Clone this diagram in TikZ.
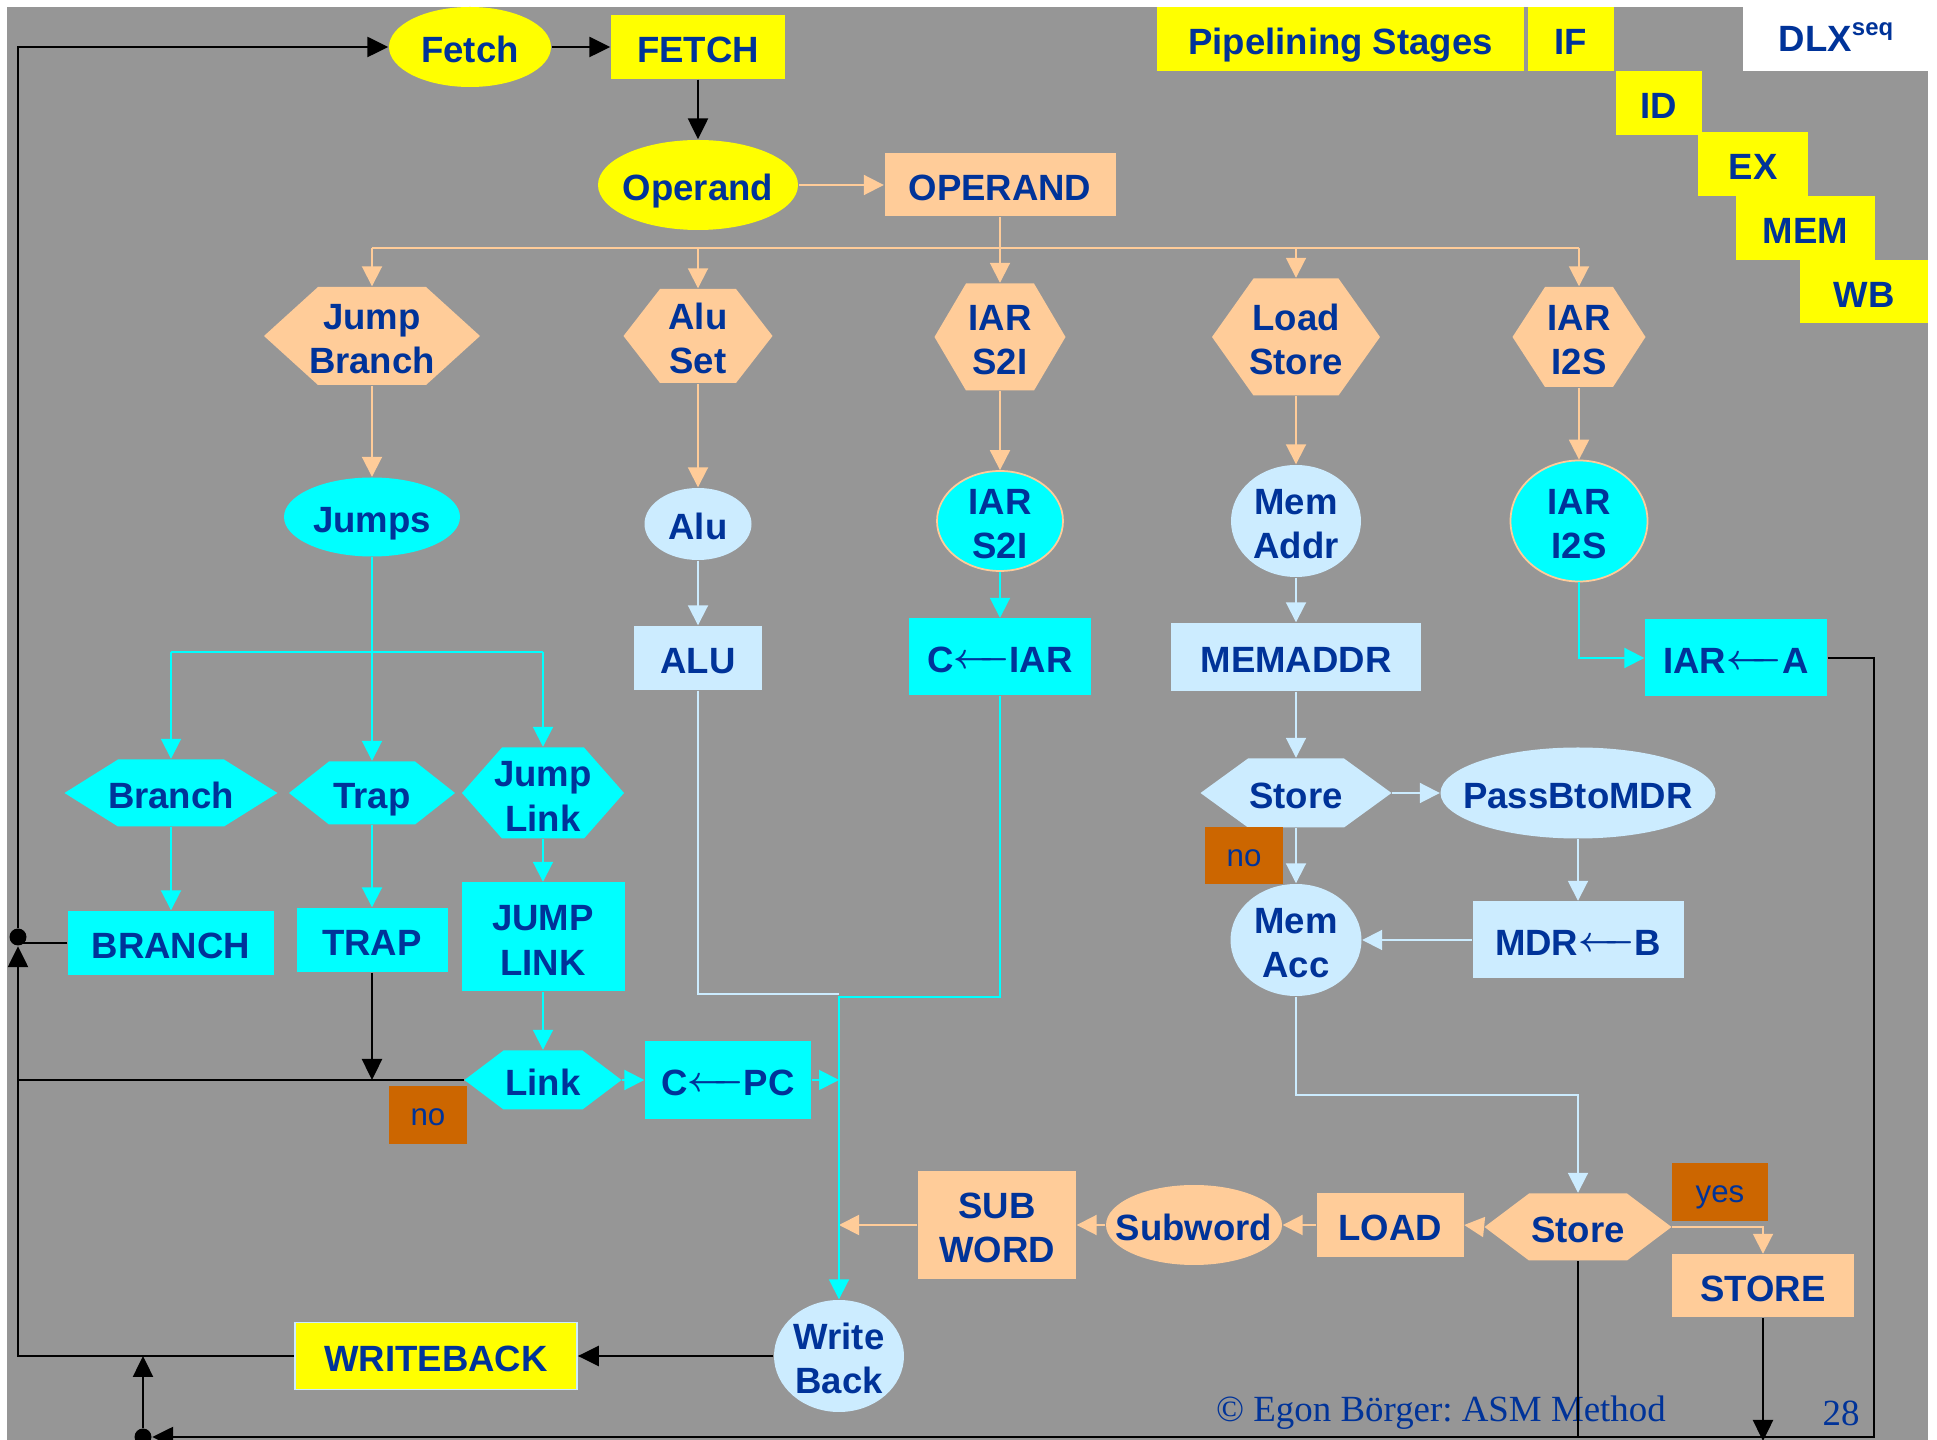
\documentclass[tikz,border=0pt]{standalone}
\usepackage{fontspec}
\setmainfont{Liberation Sans}
\newfontfamily\footfont{Liberation Serif}
\usetikzlibrary{arrows.meta,shapes.geometric,calc}
\frenchspacing

\definecolor{bggray}{RGB}{150,150,150}
\definecolor{ylw}{RGB}{255,255,0}
\definecolor{peach}{RGB}{255,204,153}
\definecolor{aqua}{RGB}{0,255,255}
\definecolor{pale}{RGB}{204,236,255}
\definecolor{rust}{RGB}{204,102,0}
\definecolor{ink}{RGB}{0,51,153}

% long assignment arrow used in register transfers
\newcommand{\larr}{\raisebox{0.1em}{\boldmath$\leftarrow\mkern-7mu\relbar$}}

\tikzset{
  lbl/.style={font=\bfseries\fontsize{10.4}{12.6}\selectfont, text=ink, align=center,
    inner sep=0pt, execute at begin node={\rule{0pt}{0.85em}}},
  sl/.style={text depth=0pt},
  ml/.style={execute at begin node={\rule{0pt}{2.08em}}},
  sz/.style 2 args={minimum width=#1*0.1mm, minimum height=#2*0.1mm},
  rbox/.style={lbl, rectangle, fill=#1},
  ebox/.style={lbl, ellipse, fill=#1, inner xsep=-4mm, inner ysep=-3mm},
  tag/.style={rectangle, fill=rust, text=ink, inner sep=0pt, text height=0.58em, text depth=0pt,
    font=\fontsize{8.9}{10}\selectfont},
  dotn/.style={circle, fill=black, inner sep=0pt, minimum size=1.7mm},
  blk/.style={draw=black, line width=0.7pt},
  blka/.style={blk, -{Triangle[length=2.1mm,width=2mm]}},
  pk/.style={draw=peach, line width=0.55pt},
  pka/.style={pk, -{Triangle[length=2mm,width=2mm]}},
  aq/.style={draw=aqua, line width=0.55pt},
  aqa/.style={aq, -{Triangle[length=2mm,width=2mm]}},
  pl/.style={draw=pale, line width=0.55pt},
  pla/.style={pl, -{Triangle[length=2mm,width=2mm]}},
}

% hexagon with flat top and bottom: name, cx, cy, width, height, top edge, fill, text, node options
\newcommand{\hexnode}[9]{%
  \fill[#7] ({#2-#4/2},#3) -- ({#2-#6/2},{#3-#5/2}) -- ({#2+#6/2},{#3-#5/2})
    -- ({#2+#4/2},#3) -- ({#2+#6/2},{#3+#5/2}) -- ({#2-#6/2},{#3+#5/2}) -- cycle;
  \node[lbl, sz={#4}{#5}, #9] (#1) at (#2,#3) {#8};}

\begin{document}
\begin{tikzpicture}[x=0.1mm, y=-0.1mm]
\useasboundingbox (0,0) rectangle (1937,1440);
\fill[white] (0,0) rectangle (1937,1440);
\fill[bggray] (7,7) rectangle (1928,1440);

% title area
\fill[white] (1743,0) rectangle (1937,71);
\node[lbl, anchor=base] (dlx) at (1836,52) {DLX\raisebox{0.85ex}{\fontsize{6.8}{8}\selectfont seq}};
\node[rbox=ylw, sl, sz={367}{64}] (PS) at (1340.5,39) {Pipelining Stages};
\node[rbox=ylw, sl, sz={86}{64}] (IF) at (1571,39) {IF};
\node[rbox=ylw, sl, sz={86}{64}] (ID) at (1659,103) {ID};
\node[rbox=ylw, sl, sz={110}{64}] (EX) at (1753,164) {EX};
\node[rbox=ylw, sl, sz={139}{64}] (MEM) at (1805.5,228) {MEM};
\node[rbox=ylw, sl, sz={128}{63}] (WB) at (1864,291.5) {WB};

% footer
\node[font=\footfont\fontsize{10.5}{12}\selectfont, text=ink, anchor=base, inner sep=0pt] (copy) at (1441,1421) {© Egon Börger: ASM Method};
\node[font=\footfont\fontsize{10.5}{12}\selectfont, text=ink, anchor=base, inner sep=0pt] (pg) at (1841,1425) {28};

% fetch stage
\node[ebox=ylw, sl, sz={162}{80}] (Fetch) at (470,47) {Fetch};
\node[rbox=ylw, sl, sz={174}{64}] (FETCH) at (698,47) {FETCH};
\node[ebox=ylw, sl, sz={200}{90}] (Operand) at (698,185) {Operand};
\node[rbox=peach, sl, sz={231}{63}] (OPERAND) at (1000,185) {OPERAND};

% decode hexagons
\hexnode{JB}{372}{336}{216}{98}{108}{peach}{Jump\\Branch}{ml}
\hexnode{AS}{698}{336}{149}{94}{76}{peach}{Alu\\Set}{ml}
\hexnode{IS2I}{1000}{337}{131}{107}{68}{peach}{IAR\\S2I}{ml}
\hexnode{LS}{1296}{337}{168}{117}{85}{peach}{Load\\Store}{ml}
\hexnode{II2S}{1579}{337}{133}{100}{68}{peach}{IAR\\I2S}{ml}

% second row
\node[ebox=aqua, sl, sz={176}{79}] (Jumps) at (372,517) {Jumps};
\node[ebox=pale, sl, sz={107}{72}] (Alu) at (698,524) {Alu};
\node[ebox=aqua, ml, draw=peach, line width=0.5pt, sz={126}{100}] (eS2I) at (1000,521) {IAR\\S2I};
\node[ebox=pale, ml, sz={130}{112}] (MemAddr) at (1296,521) {Mem\\Addr};
\node[ebox=aqua, ml, draw=peach, line width=0.5pt, sz={137}{121}] (eI2S) at (1579,521) {IAR\\I2S};

% execute boxes
\node[rbox=pale, sl, sz={128}{64}] (ALU) at (698,658) {ALU};
\node[rbox=aqua, sl, sz={182}{77}] (CIAR) at (1000,657) {C\larr IAR};
\node[rbox=pale, sl, sz={250}{68}] (MEMADDR) at (1296,657) {MEMADDR};
\node[rbox=aqua, sl, sz={182}{77}] (IARA) at (1736,658) {IAR\larr A};

% jump branch family
\hexnode{Branch}{171}{793}{213}{67}{106}{aqua}{Branch}{sl}
\hexnode{Trap}{372}{793}{166}{63}{86}{aqua}{Trap}{sl}
\hexnode{JL}{543}{793}{162}{91}{82}{aqua}{Jump\\Link}{ml}
\node[rbox=aqua, sl, sz={206}{64}] (BRANCH) at (171,943) {BRANCH};
\node[rbox=aqua, sl, sz={151}{64}] (TRAP) at (372,940) {TRAP};
\node[rbox=aqua, ml, sz={163}{109}] (JLINK) at (543,937) {JUMP\\LINK};
\hexnode{Link}{543}{1080}{157}{59}{79}{aqua}{Link}{sl}
\node[rbox=aqua, sl, sz={166}{78}] (CPC) at (728,1080) {C\larr PC};
\node[tag, sz={78}{58}] (no2) at (428,1115) {no};

% memory family
\hexnode{Store1}{1296}{793}{191}{69}{96}{pale}{Store}{sl}
\node[ebox=pale, sl, sz={275}{91}] (PassB) at (1578,793) {PassBtoMDR};
\node[tag, sz={78}{57}] (no1) at (1244,856) {no};
\node[ebox=pale, ml, sz={131}{112}] (MemAcc) at (1296,940) {Mem\\Acc};
\node[rbox=pale, sl, sz={211}{77}] (MDRB) at (1578,940) {MDR\larr B};

% load / store results
\node[rbox=peach, ml, sz={158}{108}] (SUBWORD) at (997,1225) {SUB\\WORD};
\node[ebox=peach, sl, sz={176}{80}] (Subword) at (1194,1225) {Subword};
\node[rbox=peach, sl, sz={147}{64}] (LOAD) at (1390,1225) {LOAD};
\hexnode{Store2}{1578}{1227}{187}{67}{98}{peach}{Store}{sl}
\node[tag, sz={96}{58}] (yes) at (1720,1192) {yes};
\node[rbox=peach, sl, sz={182}{63}] (STORE) at (1763,1286) {STORE};

% write back
\node[ebox=pale, ml, sz={130}{112}] (WriteBack) at (839,1356) {Write\\Back};
\node[rbox=ylw, sl, draw=pale, line width=0.5pt, sz={282}{67}] (WRITEBACK) at (436,1356) {WRITEBACK};

% junction dots and helper levels
\node[dotn] (dotA) at (18,937) {};
\node[dotn] (dotB) at (143,1437) {};
\coordinate (bus) at (0,248);
\coordinate (jbus) at (0,652);
\coordinate (abus) at (0,994);
\coordinate (wbus) at (0,997);
\coordinate (mbus) at (0,1095);
\coordinate (rc) at (1874,1437);
\coordinate (edge) at (0,1441);

% black control flow
\draw[blka] (dotA) -- (dotA |- Fetch) -- (Fetch.west);
\draw[blka] (Fetch.east) -- (FETCH.west);
\draw[blka] (FETCH.south) -- (Operand.north);
\draw[blk] (BRANCH.west) -- (BRANCH.west -| dotA);
\draw[blka] (WRITEBACK.west) -- (WRITEBACK.west -| dotA) -- (dotA);
\draw[blk] (Link.west) -- (Link.west -| dotA);
\draw[blka] (TRAP.south) -- (TRAP.south |- Link.west);
\draw[blka] (WriteBack.west) -- (WRITEBACK.east);
\draw[blka] (IARA.east) -- (IARA.east -| rc) -- (rc) -- (dotB);
\draw[blka] (dotB) -- (dotB |- WRITEBACK.west);
\draw[blk] (Store2.south) -- (Store2.south |- rc);
\draw[blka] (STORE.south) -- (STORE.south |- edge);

% peach connectors
\draw[pka] (Operand.east) -- (OPERAND.west);
\draw[pk] (OPERAND.south) -- (OPERAND.south |- bus);
\draw[pk] (JB.north |- bus) -- (II2S.north |- bus);
\foreach \n in {JB,AS,IS2I,LS,II2S} \draw[pka] (\n.north |- bus) -- (\n.north);
\draw[pka] (JB.south) -- (Jumps.north);
\draw[pka] (AS.south) -- (Alu.north);
\draw[pka] (IS2I.south) -- (eS2I.north);
\draw[pka] (LS.south) -- (MemAddr.north);
\draw[pka] (II2S.south) -- (eI2S.north);
\draw[pka] (Store2.west) -- (LOAD.east);
\draw[pka] (LOAD.west) -- (Subword.east);
\draw[pka] (Subword.west) -- (SUBWORD.east);
\draw[pka] (SUBWORD.west) -- (SUBWORD.west -| WriteBack.north);
\draw[pka] (Store2.east) -- (Store2.east -| STORE.north) -- (STORE.north);

% pale connectors
\draw[pla] (Alu.south) -- (ALU.north);
\draw[pl] (ALU.south) -- (ALU.south |- abus) -- (WriteBack.north |- abus);
\draw[pla] (MemAddr.south) -- (MEMADDR.north);
\draw[pla] (MEMADDR.south) -- (Store1.north);
\draw[pla] (Store1.east) -- (PassB.west);
\draw[pla] (Store1.south) -- (MemAcc.north);
\draw[pla] (PassB.south) -- (MDRB.north);
\draw[pla] (MDRB.west) -- (MemAcc.east);
\draw[pla] (MemAcc.south) -- (MemAcc.south |- mbus) -- (Store2.north |- mbus) -- (Store2.north);

% aqua connectors
\draw[aq] (Jumps.south) -- (Jumps.south |- jbus);
\draw[aq] (Branch.north |- jbus) -- (JL.north |- jbus);
\foreach \n in {Branch,Trap,JL} \draw[aqa] (\n.north |- jbus) -- (\n.north);
\draw[aqa] (Branch.south) -- (BRANCH.north);
\draw[aqa] (Trap.south) -- (TRAP.north);
\draw[aqa] (JL.south) -- (JLINK.north);
\draw[aqa] (JLINK.south) -- (Link.north);
\draw[aqa] (Link.east) -- (CPC.west);
\draw[aqa] (CPC.east) -- (CPC.east -| WriteBack.north);
\draw[aqa] (eS2I.south) -- (CIAR.north);
\draw[aqa] (CIAR.south) -- (CIAR.south |- wbus) -- (WriteBack.north |- wbus) -- (WriteBack.north);
\draw[aqa] (eI2S.south) -- (eI2S.south |- IARA.west) -- (IARA.west);
\end{tikzpicture}
\end{document}
